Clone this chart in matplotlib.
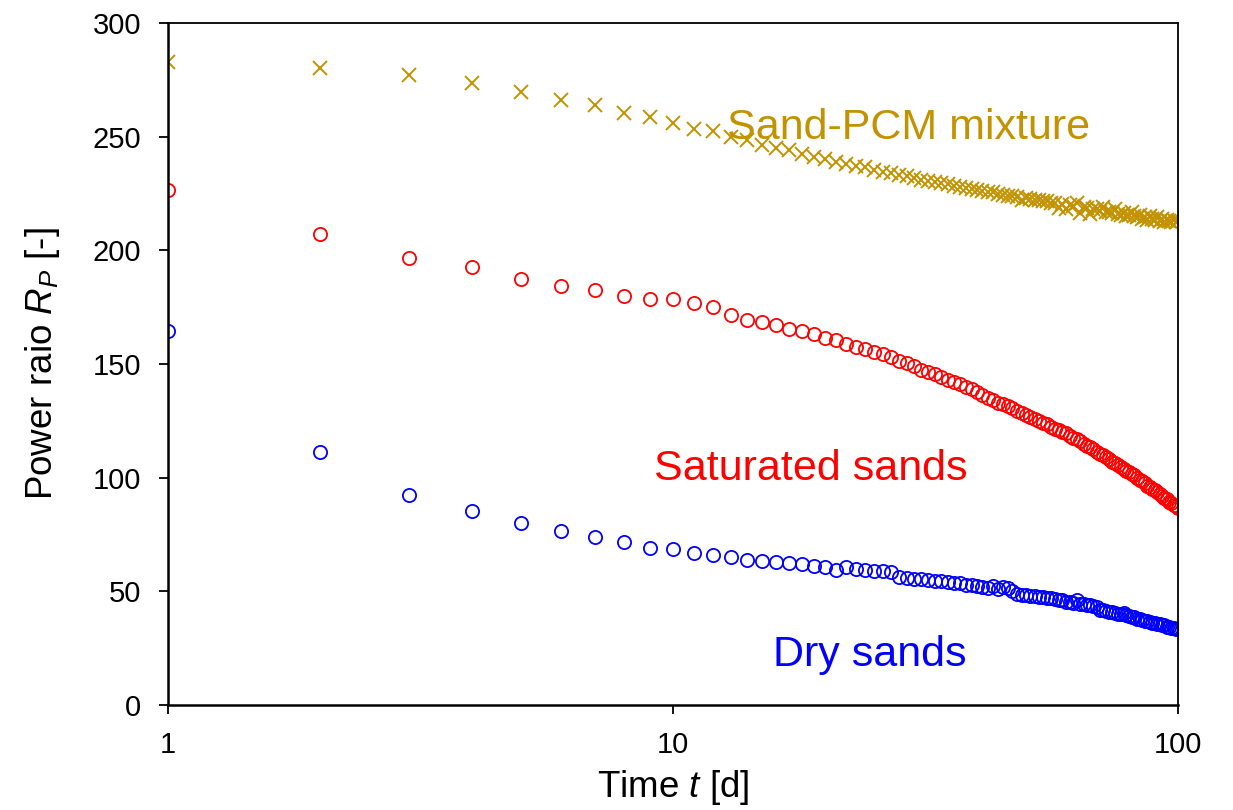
import matplotlib
matplotlib.use("Agg")
import numpy as np
import matplotlib.pyplot as plt
from matplotlib.ticker import FixedLocator, FixedFormatter, NullLocator

plt.rcParams["font.family"] = ["Liberation Sans", "DejaVu Sans"]
plt.rcParams["mathtext.fontset"] = "custom"
plt.rcParams["mathtext.rm"] = "Liberation Sans"
plt.rcParams["mathtext.it"] = "Liberation Sans:italic"

# ---------- data (t = 1..100 d) ----------
time_d = list(range(1, 101))

sand_pcm = [
    283, 280, 277, 273.5, 269.5, 266, 264, 260.5, 258.5, 256,
    253.5, 252.5, 250, 248.5, 246.5, 245, 244, 242.5, 241, 240,
    239, 238, 237, 236.5, 235.5, 234.5, 234, 233, 232.5, 232,
    231, 230.5, 230, 229.5, 229, 228.5, 228, 227.5, 227, 226.5,
    226, 225.5, 225.5, 225, 224.5, 224, 224, 223.5, 222, 223,
    222.5, 222, 222, 221.5, 221.5, 221, 221, 218.5, 220.5, 218,
    220, 219.5, 221, 216.5, 219, 218.5, 216, 218, 218, 217.5,
    219, 217, 217, 216.5, 218, 216, 215.5, 216.5, 215, 215.5,
    217, 215, 214.5, 215.5, 214, 214.5, 213.5, 215, 214, 213.5,
    214.5, 213, 214, 212.5, 213.5, 213, 212.5, 213.5, 212.5, 213,
]

saturated = [
    226.5, 207, 196.5, 192.5, 187.5, 184.5, 182.5, 180, 178.5, 178.5,
    177, 175, 171.5, 169.5, 168.5, 167, 165.5, 164.5, 163, 161.5,
    160.5, 159, 157.5, 156.5, 155.5, 154.5, 153, 151.5, 150.5, 149,
    147.5, 146.5, 145.5, 144.5, 143, 142, 141, 140, 139, 137.5,
    136.5, 135, 134, 133, 132.5, 131.5, 130.5, 129.5, 128.5, 127.5,
    126.5, 126, 125, 124, 123.5, 122.5, 121.5, 121, 120, 119.5,
    118.5, 117.5, 117, 116, 115, 114, 113.5, 112.5, 111.5, 110.5,
    110, 109, 108, 107, 106.5, 105.5, 104.5, 104, 103, 102.5,
    101.5, 101, 100, 99, 98.5, 97.5, 96.5, 96, 95, 94.5,
    93.5, 93, 92, 91, 90.5, 89.5, 89, 88, 87.5, 86.5,
]

dry = [
    164.5, 111.5, 92.5, 85.5, 80, 76.5, 74, 71.5, 69, 68.5,
    67, 66, 65, 64, 63.5, 63, 62.5, 62, 61, 60.5,
    59.5, 60.5, 60, 59.5, 59, 59, 58.5, 56.5, 56, 55.5,
    55.5, 55, 54.5, 54.5, 54, 53.5, 53.5, 53, 53, 52.5,
    52, 51.5, 52.5, 51, 52, 51.5, 50, 49, 48.5, 48.5,
    48, 48, 47.5, 47.5, 47, 47, 46.5, 46, 46, 45.5,
    45.5, 45, 46, 44.5, 44.5, 44, 44, 43.5, 43, 42,
    42, 41.5, 41, 41, 40.5, 40, 40, 40.5, 39.5, 39,
    38.5, 38.5, 38, 38, 37.5, 37, 37, 36.5, 36, 36,
    35.5, 35.5, 35, 35, 34.5, 34.5, 34, 34, 33.5, 33.5,
]

labels = ["Sand-PCM mixture", "Saturated sands", "Dry sands"]
label_xy = [(29.3, 254), (18.7, 104), (24.5, 22)]

gold, red, blue = "#C39200", "#FF0000", "#0000FF"

# ---------- figure ----------
fig = plt.figure(figsize=(12.33, 8.10), dpi=100)
ax = fig.add_axes([0.1363, 0.1296, 0.8191, 0.8420])

ax.plot(time_d, sand_pcm, ls="none", marker="x", ms=9.5, mew=1.4, color=gold)
ax.plot(time_d, saturated, ls="none", marker="o", ms=9.5, mew=1.3,
        mfc="none", mec=red)
ax.plot(time_d, dry, ls="none", marker="o", ms=9.5, mew=1.3,
        mfc="none", mec=blue)

for txt, (x, y), c in zip(labels, label_xy, [gold, red, blue]):
    ax.text(x, y, txt, color=c, fontsize=31, ha="center", va="center")

ax.set_xscale("log")
ax.set_xlim(1, 100)
ax.set_ylim(0, 300)
ax.xaxis.set_major_locator(FixedLocator([1, 10, 100]))
ax.xaxis.set_major_formatter(FixedFormatter(["1", "10", "100"]))
ax.xaxis.set_minor_locator(NullLocator())
ax.set_yticks(np.arange(0, 301, 50))

ax.tick_params(axis="both", direction="out", length=6.5, width=1.3,
               labelsize=21)
ax.tick_params(axis="x", pad=12)
ax.tick_params(axis="y", pad=13)
for s in ax.spines.values():
    s.set_linewidth(1.3)
    s.set_color("black")
ax.spines["left"].set_linewidth(1.8)
ax.spines["bottom"].set_linewidth(1.8)

ax.set_xlabel(r"Time $t$ [d]", fontsize=26.5, labelpad=7)
ax.set_ylabel(r"Power raio $R_P$ [-]", fontsize=26.5, labelpad=22)

fig.savefig("out.png", dpi=100)
